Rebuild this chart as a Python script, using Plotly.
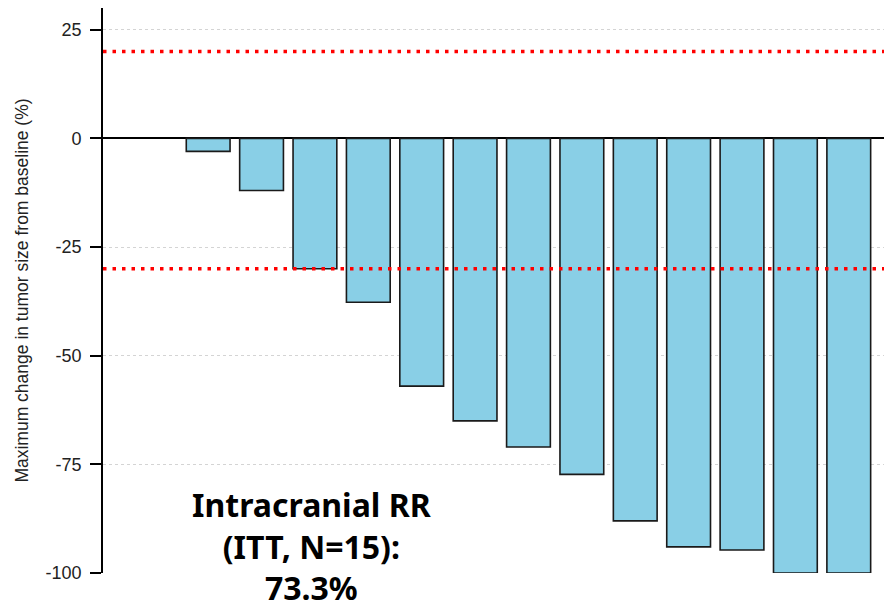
import plotly.graph_objects as go

# Waterfall of best percentage change in intracranial tumor size, per patient
patients = list(range(1, 14))
best_change = [-3.0, -12.0, -30.0, -37.7, -57.0, -65.0, -71.0, -77.3, -88.0, -94.0, -94.7, -100.0, -100.0]

progression_cut = 20
response_cut = -30
y_ticks = [25, 0, -25, -50, -75, -100]
summary_text = "<b>Intracranial RR<br>(ITT, N=15):<br>73.3%</b>"

fig = go.Figure()

fig.add_trace(go.Bar(
    x=patients,
    y=best_change,
    width=0.82,
    marker=dict(color="#89cfe6", line=dict(color="#1a1a1a", width=1.6)),
    showlegend=False,
))

for level in (progression_cut, response_cut):
    fig.add_shape(
        type="line", xref="paper", x0=0, x1=1, yref="y", y0=level, y1=level,
        line=dict(color="#ff0000", width=3.5, dash="3.5px,6px"), layer="above",
    )

fig.add_annotation(
    text=summary_text,
    xref="paper", x=0.2676, yref="y", y=-93.8,
    xanchor="center", yanchor="middle", showarrow=False,
    font=dict(family="Noto Sans", size=32, color="black"),
    align="center",
)

fig.update_layout(
    width=884, height=601,
    margin=dict(l=103, r=0, t=8, b=28),
    plot_bgcolor="white", paper_bgcolor="white",
    xaxis=dict(
        range=[-0.97, 13.66], showticklabels=False, showgrid=False,
        zeroline=False, showline=False, ticks="",
    ),
    yaxis=dict(
        range=[-100, 30], tickvals=y_ticks,
        ticktext=[str(v) for v in y_ticks],
        showgrid=True, gridcolor="#d4d4d4", griddash="dot", gridwidth=1,
        zeroline=True, zerolinecolor="black", zerolinewidth=1.6,
        showline=True, linecolor="black", linewidth=1.6,
        ticks="outside", ticklen=11, tickcolor="black", tickwidth=1.6,
        ticklabelstandoff=5,
        tickfont=dict(family="Liberation Sans", size=18, color="#222"),
        title=dict(
            text="Maximum change in tumor size from baseline (%)",
            font=dict(family="Liberation Sans", size=17.5, color="#222"),
            standoff=12,
        ),
    ),
)

fig.write_html("out.html")
